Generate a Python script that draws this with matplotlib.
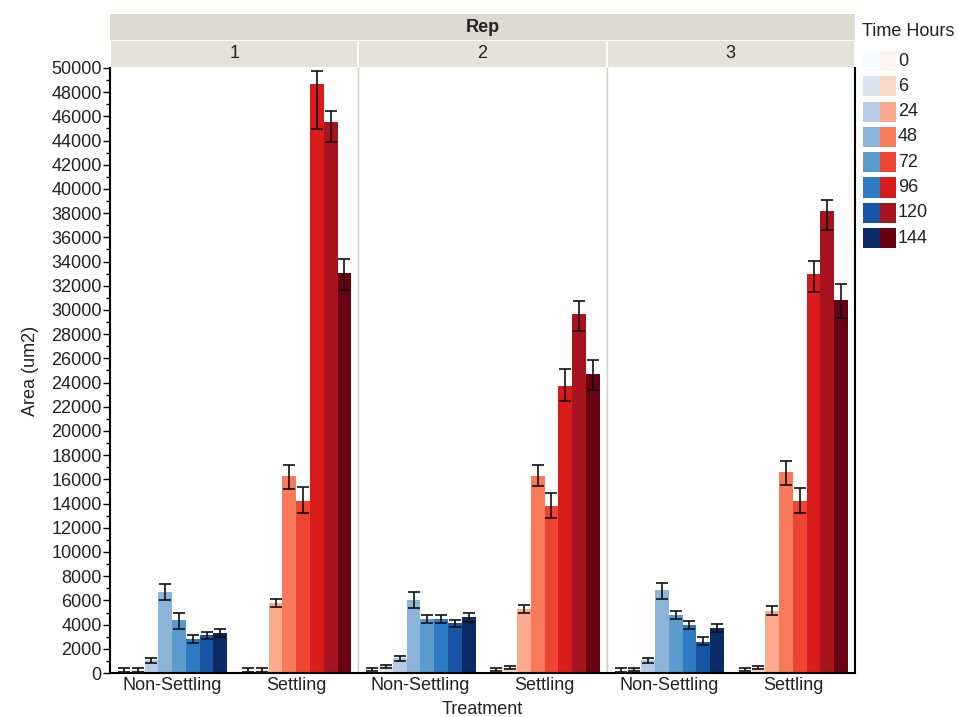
import matplotlib.pyplot as plt
import numpy as np
from matplotlib.patches import Rectangle
from matplotlib.ticker import MultipleLocator

plt.rcParams['font.family'] = ['Liberation Sans', 'DejaVu Sans']

hours = ['0', '6', '24', '48', '72', '96', '120', '144']
treatments = ['Non-Settling', 'Settling']
reps = ['1', '2', '3']

# mean area per rep, treatment and time point
nonsettling = [
    [250, 250, 1050, 6700, 4350, 2800, 3100, 3300],
    [300, 550, 1200, 6050, 4450, 4450, 4100, 4600],
    [250, 300, 1050, 6850, 4800, 3950, 2600, 3750],
]
settling = [
    [250, 250, 5800, 16300, 14200, 48650, 45550, 33050],
    [300, 450, 5300, 16300, 13800, 23750, 29700, 24700],
    [300, 450, 5150, 16600, 14200, 33000, 38200, 30800],
]
# error bar extents below / above the mean
nonsettling_lo = [
    [150, 150, 200, 650, 700, 350, 300, 320],
    [150, 150, 200, 700, 350, 350, 330, 350],
    [150, 150, 200, 700, 330, 330, 300, 330],
]
nonsettling_hi = [
    [150, 150, 200, 650, 650, 350, 300, 300],
    [150, 150, 200, 650, 350, 350, 300, 350],
    [150, 150, 200, 600, 330, 330, 400, 330],
]
settling_lo = [
    [150, 150, 330, 1100, 950, 3700, 1650, 1400],
    [150, 150, 330, 850, 950, 1300, 1450, 1300],
    [150, 150, 380, 1100, 950, 1500, 1600, 1450],
]
settling_hi = [
    [150, 150, 350, 850, 1150, 1100, 900, 1150],
    [150, 150, 350, 850, 1050, 1350, 1050, 1200],
    [150, 150, 380, 950, 1050, 1050, 900, 1350],
]

blues = ['#f7fbff', '#d9e4ee', '#b7cce6', '#8db5da', '#5a9bd0', '#2e7ac3',
         '#1955a6', '#0b2a68']
reds = ['#fff4ef', '#fbd9c6', '#fbaa8e', '#f9795b', '#ee4533', '#d91b1b',
        '#a71420', '#690011']

W, H = 958, 717
FS = 13
fig = plt.figure(figsize=(W / 100, H / 100), dpi=100)


def fx(px):
    return px / W


def fy(py):
    return 1 - py / H


left, right, top, bottom = 110, 855, 68, 673
pw = (right - left) / 3
n = len(hours)
bw = 0.111
offsets = (np.arange(n) - (n - 1) / 2) * bw

axes = []
for r in range(3):
    ax = fig.add_axes([fx(left + r * pw), fy(bottom), fx(pw), fy(top) - fy(bottom)])
    axes.append(ax)
    for g, (vals, lo, hi, cols) in enumerate([
            (nonsettling[r], nonsettling_lo[r], nonsettling_hi[r], blues),
            (settling[r], settling_lo[r], settling_hi[r], reds)]):
        xs = g + offsets
        ax.bar(xs, vals, width=bw, color=cols, linewidth=0, zorder=2)
        ax.errorbar(xs, vals, yerr=[lo, hi], fmt='none', ecolor='#111111',
                    elinewidth=1.2, capsize=4, capthick=1.2, zorder=3)
    ax.set_xlim(-0.5, 1.5)
    ax.set_ylim(0, 50000)
    ax.set_xticks([0, 1])
    ax.set_xticklabels(treatments, fontsize=FS, color='#222222')
    ax.tick_params(axis='x', length=0, pad=3)
    ax.yaxis.set_major_locator(MultipleLocator(2000))
    ax.yaxis.set_minor_locator(MultipleLocator(1000))
    ax.spines['top'].set_visible(False)
    for s in ['left', 'right']:
        ax.spines[s].set_color('#d0d0d0')
        ax.spines[s].set_linewidth(1)
    ax.spines['bottom'].set_color('black')
    ax.spines['bottom'].set_linewidth(1.5)
    if r == 0:
        ax.spines['left'].set_color('black')
        ax.spines['left'].set_linewidth(1.5)
        ax.tick_params(axis='y', which='major', length=5, width=1, labelsize=FS,
                       labelcolor='#222222', pad=1)
        ax.tick_params(axis='y', which='minor', length=3, width=1)
        ax.set_ylabel('Area (um2)', fontsize=FS, color='#222222', labelpad=9)
    else:
        ax.tick_params(axis='y', which='both', left=False, labelleft=False)
    if r == 2:
        ax.spines['right'].set_color('black')
        ax.spines['right'].set_linewidth(1.5)

fig.text(fx((left + right) / 2), fy(709), 'Treatment', ha='center', va='center',
         fontsize=FS, color='#222222')

# header strips
fig.patches.append(Rectangle((fx(left), fy(40)), fx(right - left), fy(14) - fy(40),
                             transform=fig.transFigure, facecolor='#dcdbd0',
                             edgecolor='none'))
fig.text(fx((left + right) / 2), fy(27), 'Rep', ha='center', va='center',
         fontsize=FS, fontweight='bold', color='#222222')
for r in range(3):
    fig.patches.append(Rectangle((fx(left + r * pw + 1), fy(67)), fx(pw - 2),
                                 fy(41) - fy(67), transform=fig.transFigure,
                                 facecolor='#e4e3da', edgecolor='none'))
    fig.text(fx(left + (r + 0.5) * pw), fy(54), reps[r], ha='center', va='center',
             fontsize=FS, color='#222222')

# legend with paired swatches
fig.text(fx(862), fy(32), 'Time Hours', ha='left', va='center', fontsize=FS,
         color='#222222')
for i, h in enumerate(hours):
    yc = 61 + i * 25.3
    fig.patches.append(Rectangle((fx(863), fy(yc + 10)), fx(17), fy(yc - 10) - fy(yc + 10),
                                 transform=fig.transFigure, facecolor=blues[i],
                                 edgecolor='none'))
    fig.patches.append(Rectangle((fx(880), fy(yc + 10)), fx(16), fy(yc - 10) - fy(yc + 10),
                                 transform=fig.transFigure, facecolor=reds[i],
                                 edgecolor='none'))
    fig.text(fx(898), fy(yc), h, ha='left', va='center', fontsize=FS,
             color='#222222')

fig.savefig('out.png', dpi=100)
